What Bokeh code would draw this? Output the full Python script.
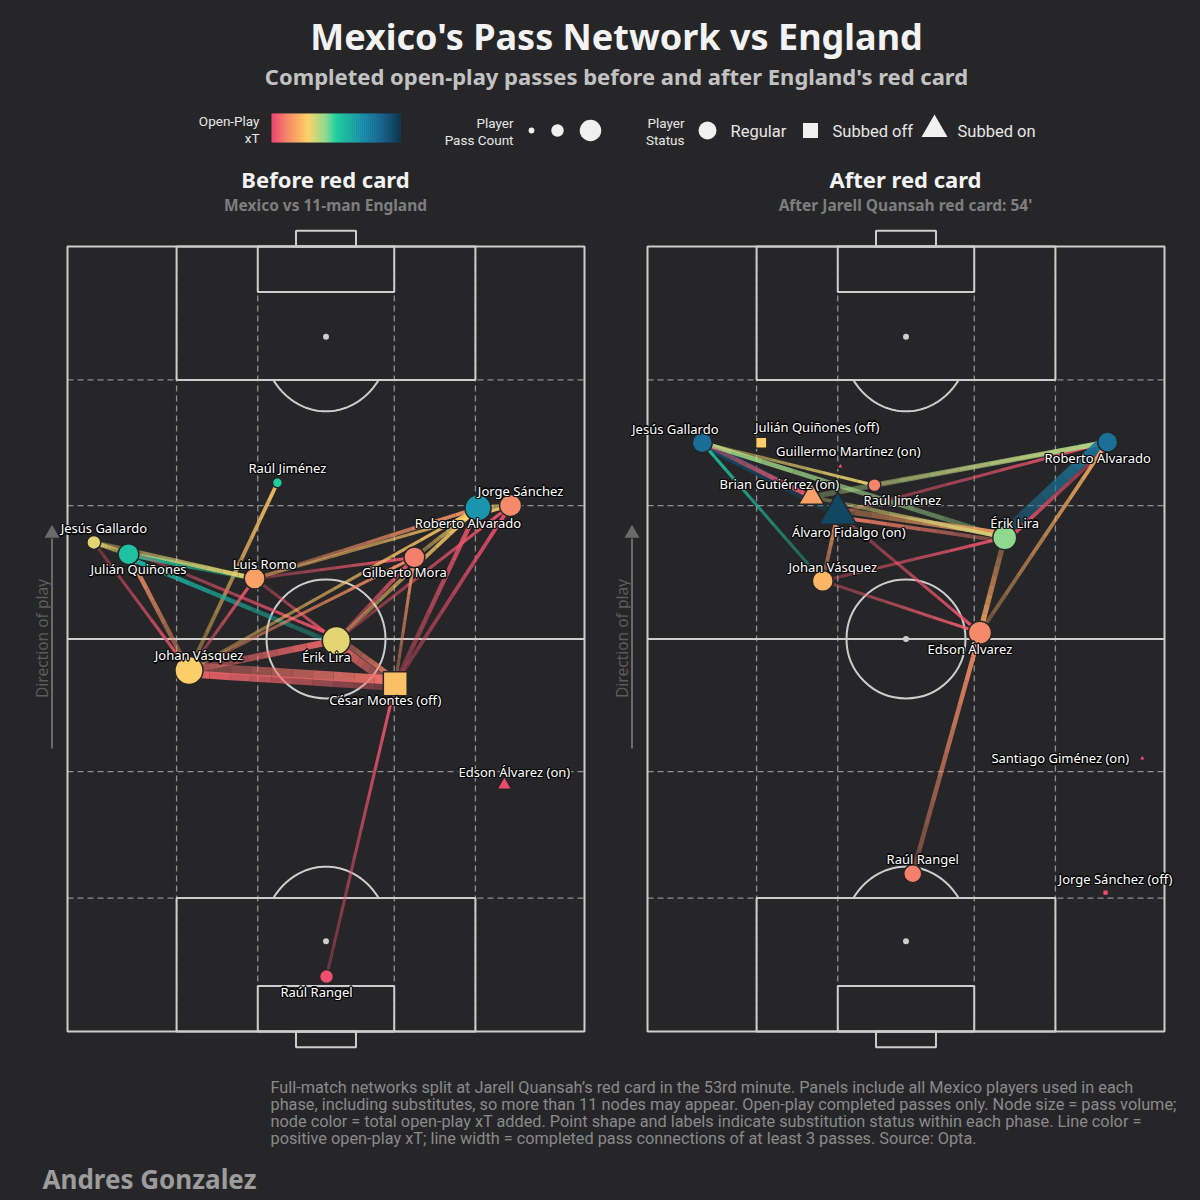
import math
from bokeh.plotting import figure
from bokeh.models import Range1d, ColumnDataSource
from bokeh.core.properties import value
from bokeh.embed import file_html
from bokeh.resources import INLINE

# ---------------- DATA ----------------
# Pitch coordinates (Opta-style 0-100): x = width (left->right), y = length (own goal -> attack)
before_players = ["Raúl Jiménez", "Jorge Sánchez", "Roberto Alvarado", "Jesús Gallardo",
                  "Julián Quiñones", "Luis Romo", "Gilberto Mora", "Érik Lira",
                  "Johan Vásquez", "César Montes", "Edson Álvarez", "Raúl Rangel"]
before_x = [40.6, 85.7, 79.4, 5.1, 11.8, 36.2, 67.1, 52.0, 23.5, 63.4, 84.5, 50.1]
before_y = [69.9, 67.0, 66.7, 62.3, 60.8, 57.7, 60.4, 49.8, 46.0, 44.3, 31.4, 7.0]
before_passes = [5, 35, 51, 12, 31, 31, 31, 60, 60, 42, 10, 12]
before_xt = [0.50, 0.12, 0.70, 0.31, 0.55, 0.17, 0.10, 0.31, 0.27, 0.24, 0.00, 0.01]
before_status = ["regular", "regular", "regular", "regular", "regular", "regular", "regular",
                 "regular", "regular", "off", "on", "regular"]

before_from = ["Johan Vásquez", "Julián Quiñones", "Jesús Gallardo", "Luis Romo", "Érik Lira",
               "Jesús Gallardo", "Johan Vásquez", "Julián Quiñones", "Johan Vásquez", "Luis Romo",
               "Luis Romo", "Luis Romo", "Luis Romo", "Johan Vásquez", "Johan Vásquez",
               "Johan Vásquez", "Johan Vásquez", "César Montes", "Érik Lira", "Érik Lira",
               "Érik Lira", "César Montes", "César Montes", "César Montes", "Raúl Rangel",
               "Gilberto Mora", "Jorge Sánchez", "César Montes", "Érik Lira"]
before_to = ["Raúl Jiménez", "Jesús Gallardo", "Johan Vásquez", "Julián Quiñones", "Julián Quiñones",
             "Luis Romo", "Julián Quiñones", "Érik Lira", "Luis Romo", "Érik Lira",
             "Roberto Alvarado", "Gilberto Mora", "Jorge Sánchez", "Érik Lira", "César Montes",
             "Gilberto Mora", "Roberto Alvarado", "Érik Lira", "Gilberto Mora", "Roberto Alvarado",
             "Jorge Sánchez", "Gilberto Mora", "Roberto Alvarado", "Jorge Sánchez", "César Montes",
             "Roberto Alvarado", "Roberto Alvarado", "Johan Vásquez", "César Montes"]
before_count = [4, 5, 3, 6, 5, 5, 5, 3, 3, 3, 4, 3, 3, 8, 12, 3, 3, 10, 4, 4, 3, 3, 5, 4, 3, 4, 5,
                9, 6]
before_edge_xt = [0.24, 0.30, 0.02, 0.52, 0.60, 0.30, 0.14, 0.02, 0.03, 0.02, 0.14, 0.03, 0.25,
                  0.06, 0.08, 0.13, 0.25, 0.07, 0.02, 0.27, 0.02, 0.14, 0.02, 0.01, 0.02, 0.28, 0.30,
                  0.05, 0.10]

after_players = ["Jesús Gallardo", "Julián Quiñones", "Guillermo Martínez", "Raúl Jiménez",
                 "Brian Gutiérrez", "Álvaro Fidalgo", "Roberto Alvarado", "Érik Lira",
                 "Johan Vásquez", "Edson Álvarez", "Raúl Rangel", "Santiago Giménez", "Jorge Sánchez"]
after_x = [10.6, 22.0, 37.3, 43.9, 31.7, 36.8, 89.0, 69.1, 33.9, 64.3, 51.3, 95.7, 88.6]
after_y = [75.0, 75.0, 72.0, 69.6, 68.1, 66.0, 75.1, 62.9, 57.4, 50.8, 20.1, 34.8, 17.7]
after_passes = [28, 7, 1, 10, 35, 82, 28, 42, 31, 39, 22, 1, 1]
after_xt = [0.84, 0.27, 0.00, 0.11, 0.17, 0.96, 0.83, 0.42, 0.22, 0.12, 0.10, 0.00, 0.00]
after_status = ["regular", "off", "on", "regular", "on", "on", "regular", "regular", "regular",
                "regular", "regular", "on", "off"]

after_from = ["Álvaro Fidalgo", "Johan Vásquez", "Érik Lira", "Jesús Gallardo", "Jesús Gallardo",
              "Raúl Jiménez", "Álvaro Fidalgo", "Brian Gutiérrez", "Álvaro Fidalgo", "Johan Vásquez",
              "Álvaro Fidalgo", "Brian Gutiérrez", "Johan Vásquez", "Johan Vásquez", "Érik Lira",
              "Roberto Alvarado", "Edson Álvarez", "Érik Lira", "Raúl Rangel", "Érik Lira"]
after_to = ["Jesús Gallardo", "Jesús Gallardo", "Jesús Gallardo", "Brian Gutiérrez", "Raúl Jiménez",
            "Roberto Alvarado", "Roberto Alvarado", "Roberto Alvarado", "Érik Lira", "Álvaro Fidalgo",
            "Edson Álvarez", "Érik Lira", "Érik Lira", "Edson Álvarez", "Roberto Alvarado",
            "Érik Lira", "Roberto Alvarado", "Edson Álvarez", "Edson Álvarez", "Álvaro Fidalgo"]
after_count = [11, 3, 5, 5, 3, 3, 3, 6, 7, 4, 3, 4, 3, 3, 13, 4, 4, 6, 5, 4]
after_edge_xt = [0.95, 0.55, 0.40, 0.02, 0.30, 0.15, 0.02, 0.38, 0.17, 0.16, 0.02, 0.33, 0.02,
                 0.04, 0.80, 0.02, 0.20, 0.18, 0.13, 0.10]

legend_pass_counts = [1, 9, 33]

# colormap anchors (open-play xT, normalised)
cmap_pos = [0.0, 0.12, 0.20, 0.28, 0.42, 0.50, 0.60, 0.72, 0.85, 1.0]
cmap_hex = ["#ee4a6e", "#f58a69", "#f9ad62", "#fcd36a", "#8fd98e", "#1fd09e", "#1db4a4",
            "#1a8fb0", "#1a6a93", "#0e3a52"]

# ---------------- STYLE ----------------
BG = "#262628"
LINE = "#cdcdcd"
DASH = "#8f8f8f"
W = H = 1200
SX, SY = 5.17, 7.85          # px per pitch unit
PITCH_LEFT = {"L": 67, "R": 647}
PITCH_BOTTOM = 1031

label_off_before = {
    "Raúl Jiménez": (10, -15), "Jorge Sánchez": (10, -15), "Roberto Alvarado": (-10, 15),
    "Jesús Gallardo": (10, -14), "Julián Quiñones": (10, 15), "Luis Romo": (10, -15),
    "Gilberto Mora": (-10, 15), "Érik Lira": (-10, 16), "Johan Vásquez": (10, -15),
    "César Montes": (-10, 16), "Edson Álvarez": (10, -13), "Raúl Rangel": (-10, 15)}
label_off_after = {
    "Jesús Gallardo": (-27, -14), "Julián Quiñones": (56, -16), "Guillermo Martínez": (8, -15),
    "Raúl Jiménez": (28, 15), "Brian Gutiérrez": (-32, -13), "Álvaro Fidalgo": (11, 19),
    "Roberto Alvarado": (-10, 16), "Érik Lira": (10, -15), "Johan Vásquez": (10, -14),
    "Edson Álvarez": (-10, 16), "Raúl Rangel": (10, -15), "Santiago Giménez": (-82, 0),
    "Jorge Sánchez": (10, -14)}


def hex2rgb(h):
    h = h.lstrip("#")
    return tuple(int(h[i:i + 2], 16) for i in (0, 2, 4))


def cmap(v):
    v = max(0.0, min(1.0, v))
    for i in range(len(cmap_pos) - 1):
        if cmap_pos[i] <= v <= cmap_pos[i + 1]:
            t = (v - cmap_pos[i]) / (cmap_pos[i + 1] - cmap_pos[i])
            a, b = hex2rgb(cmap_hex[i]), hex2rgb(cmap_hex[i + 1])
            c = [round(a[k] + (b[k] - a[k]) * t) for k in range(3)]
            return "#%02x%02x%02x" % tuple(c)
    return cmap_hex[-1]


def node_size(n):
    return 2.5 + 3.3 * math.sqrt(n)


p = figure(width=W, height=H, x_range=Range1d(0, W), y_range=Range1d(H, 0),
           output_backend="svg", toolbar_location=None, min_border=0,
           x_axis_type=None, y_axis_type=None,
           background_fill_color=BG, border_fill_color=BG, outline_line_color=None)
p.grid.visible = False

for key, left in PITCH_LEFT.items():
    p.extra_x_ranges[key] = Range1d((0 - left) / SX, (W - left) / SX)
p.extra_y_ranges["P"] = Range1d((PITCH_BOTTOM - H) / SY, (PITCH_BOTTOM - 0) / SY)


def txt(x, y, s, size, color, bold=False, align="left", font="Roboto", baseline="middle",
        angle=0.0):
    p.text(x=[x], y=[y], text=[s], text_font=value(font), text_font_size=f"{size}px",
           text_color=color, text_font_style="bold" if bold else "normal", text_align=align,
           text_baseline=baseline, angle=angle)


def draw_pitch(key):
    kw = dict(x_range_name=key, y_range_name="P")
    for gx in [21.1, 36.8, 63.2, 78.9]:
        p.segment(x0=[gx], y0=[0], x1=[gx], y1=[100], line_color=DASH, line_width=1.3,
                  line_dash="6 4", **kw)
    for gy in [17, 33.1, 67, 83]:
        p.segment(x0=[0], y0=[gy], x1=[100], y1=[gy], line_color=DASH, line_width=1.3,
                  line_dash="6 4", **kw)
    lw = 2
    p.quad(left=[0], right=[100], bottom=[0], top=[100], fill_color=None, line_color=LINE,
           line_width=lw, **kw)
    p.segment(x0=[0], y0=[50], x1=[100], y1=[50], line_color=LINE, line_width=lw, **kw)
    p.quad(left=[21.1, 21.1], right=[78.9, 78.9], bottom=[0, 83], top=[17, 100],
           fill_color=None, line_color=LINE, line_width=lw, **kw)
    p.quad(left=[36.8, 36.8], right=[63.2, 63.2], bottom=[0, 94.2], top=[5.8, 100],
           fill_color=None, line_color=LINE, line_width=lw, **kw)
    p.quad(left=[44.2, 44.2], right=[55.8, 55.8], bottom=[-2.0, 100], top=[0, 102.0],
           fill_color=None, line_color=LINE, line_width=lw, **kw)
    p.ellipse(x=[50], y=[50], width=119, height=119, width_units="screen",
              height_units="screen", fill_color=None, line_color=LINE, line_width=lw, **kw)
    p.scatter(x=[50, 50, 50], y=[50, 11.5, 88.5], size=6, marker="circle", fill_color=LINE,
              line_color=None, **kw)
    rx, ry = 12.5, 9.5
    for spot, sign in [(11.5, 1), (88.5, -1)]:
        xs, ys = [], []
        for i in range(121):
            th = math.pi * i / 120
            xx = 50 + rx * math.cos(th)
            yy = spot + sign * ry * math.sin(th)
            if (sign == 1 and yy >= 17) or (sign == -1 and yy <= 83):
                xs.append(xx)
                ys.append(yy)
        p.line(x=xs, y=ys, line_color=LINE, line_width=lw, **kw)


def draw_network(key, names, xs, ys, passes, xts, status, e_from, e_to, e_count, e_xt, loff):
    kw = dict(x_range_name=key, y_range_name="P")
    idx = {n: i for i, n in enumerate(names)}
    pairs = set(zip(e_from, e_to))
    sx0, sy0, sx1, sy1, scol, salpha, swidth = [], [], [], [], [], [], []
    nseg = 10
    for a, b, c, v in zip(e_from, e_to, e_count, e_xt):
        x0, y0 = xs[idx[a]], ys[idx[a]]
        x1, y1 = xs[idx[b]], ys[idx[b]]
        dxp, dyp = (x1 - x0) * SX, (y1 - y0) * SY
        L = math.hypot(dxp, dyp) or 1.0
        off = 3.5 if (b, a) in pairs else 0.0
        ox, oy = -dyp / L * off / SX, dxp / L * off / SY
        col = cmap(v)
        w = 0.7 * c + 1.0
        for k in range(nseg):
            t0, t1 = k / nseg, (k + 1) / nseg
            sx0.append(x0 + (x1 - x0) * t0 + ox)
            sy0.append(y0 + (y1 - y0) * t0 + oy)
            sx1.append(x0 + (x1 - x0) * t1 + ox)
            sy1.append(y0 + (y1 - y0) * t1 + oy)
            scol.append(col)
            salpha.append(0.32 + 0.63 * (k + 0.5) / nseg)
            swidth.append(w)
    src = ColumnDataSource(dict(x0=sx0, y0=sy0, x1=sx1, y1=sy1, c=scol, a=salpha, w=swidth))
    p.segment(x0="x0", y0="y0", x1="x1", y1="y1", line_color="c", line_alpha="a",
              line_width="w", source=src, **kw)

    marker_map = {"regular": "circle", "off": "square", "on": "triangle"}
    scale_map = {"regular": 1.0, "off": 1.0, "on": 1.15}
    nsrc = ColumnDataSource(dict(
        x=xs, y=ys, c=[cmap(v) for v in xts], m=[marker_map[s] for s in status],
        s=[node_size(n) * scale_map[st] for n, st in zip(passes, status)]))
    p.scatter(x="x", y="y", size="s", marker="m", fill_color="c", line_color=BG,
              line_width=1.5, source=nsrc, **kw)

    suffix = {"regular": "", "off": " (off)", "on": " (on)"}
    labels = [n + suffix[s] for n, s in zip(names, status)]
    dxs = [loff[n][0] for n in names]
    dys = [loff[n][1] for n in names]
    for hx, hy in [(-1, -1), (1, -1), (-1, 1), (1, 1), (0, 1.3), (0, -1.3), (1.3, 0), (-1.3, 0)]:
        hs = ColumnDataSource(dict(x=xs, y=ys, t=labels, dx=[d + hx for d in dxs],
                                   dy=[d + hy for d in dys]))
        p.text(x="x", y="y", text="t", x_offset="dx", y_offset="dy", source=hs,
               text_font=value("Noto Sans"), text_font_size="13px", text_color="#0a0a0a",
               text_align="center", text_baseline="middle", **kw)
    lsrc = ColumnDataSource(dict(x=xs, y=ys, t=labels, dx=dxs, dy=dys))
    p.text(x="x", y="y", text="t", x_offset="dx", y_offset="dy", source=lsrc,
           text_font=value("Noto Sans"), text_font_size="13px", text_color="#ffffff",
           text_align="center", text_baseline="middle", **kw)


draw_pitch("L")
draw_pitch("R")
draw_network("L", before_players, before_x, before_y, before_passes, before_xt, before_status,
             before_from, before_to, before_count, before_edge_xt, label_off_before)
draw_network("R", after_players, after_x, after_y, after_passes, after_xt, after_status,
             after_from, after_to, after_count, after_edge_xt, label_off_after)

# direction of play arrows
for ax in [51.5, 631.5]:
    p.segment(x0=[ax], y0=[748], x1=[ax], y1=[538], line_color="#6a6a6a", line_width=2)
    p.scatter(x=[ax], y=[533], marker="triangle", size=15, fill_color="#6a6a6a", line_color=None)
    txt(ax - 10, 638, "Direction of play", 15.5, "#5c5c5c", align="center", font="Noto Sans",
        angle=math.pi / 2)

# ---------------- HEADER ----------------
txt(616, 36, "Mexico's Pass Network vs England", 36, "#f2f2f2", bold=True, align="center",
    font="Noto Sans")
txt(616, 75, "Completed open-play passes before and after England's red card", 22, "#c2c2c2",
    bold=True, align="center", font="Noto Sans")

# colorbar
ncb = 64
cb_l, cb_r = 271, 400
cw = (cb_r - cb_l) / ncb
p.quad(left=[cb_l + i * cw for i in range(ncb)], right=[cb_l + (i + 1) * cw + 0.4 for i in range(ncb)],
       top=[113] * ncb, bottom=[142] * ncb, fill_color=[cmap(i / (ncb - 1)) for i in range(ncb)],
       line_color=None)
txt(259, 120, "Open-Play", 13.5, "#e6e6e6", align="right")
txt(259, 137, "xT", 13.5, "#e6e6e6", align="right")

txt(513, 122, "Player", 13.5, "#e6e6e6", align="right")
txt(513, 139, "Pass Count", 13.5, "#e6e6e6", align="right")
p.scatter(x=[531, 557, 590], y=[130, 130, 130], size=[node_size(n) for n in legend_pass_counts],
          marker="circle", fill_color="#f0f0f0", line_color=None)

txt(684, 122, "Player", 13.5, "#e6e6e6", align="right")
txt(684, 139, "Status", 13.5, "#e6e6e6", align="right")
p.scatter(x=[707], y=[130], size=18, marker="circle", fill_color="#f0f0f0", line_color=None)
txt(730, 131, "Regular", 16.5, "#e6e6e6")
p.scatter(x=[810], y=[130], size=15, marker="square", fill_color="#f0f0f0", line_color=None)
txt(832, 131, "Subbed off", 16.5, "#e6e6e6")
p.scatter(x=[934], y=[129], size=26, marker="triangle", fill_color="#f0f0f0", line_color=None)
txt(957, 131, "Subbed on", 16.5, "#e6e6e6")

# panel titles
txt(325, 178, "Before red card", 22, "#f2f2f2", bold=True, align="center", font="Noto Sans")
txt(325, 204, "Mexico vs 11-man England", 15.5, "#7e7e7e", bold=True, align="center",
    font="Noto Sans")
txt(905, 178, "After red card", 22, "#f2f2f2", bold=True, align="center", font="Noto Sans")
txt(905, 204, "After Jarell Quansah red card: 54'", 15.5, "#7e7e7e", bold=True, align="center",
    font="Noto Sans")

# ---------------- FOOTER ----------------
footer = [
    "Full-match networks split at Jarell Quansah\u2019s red card in the 53rd minute. Panels include all Mexico players used in each",
    "phase, including substitutes, so more than 11 nodes may appear. Open-play completed passes only. Node size = pass volume;",
    "node color =  total open-play xT added. Point shape and labels indicate substitution status within each phase. Line color =",
    "positive open-play xT; line width = completed pass connections of at least 3 passes. Source: Opta.",
]
for i, line in enumerate(footer):
    txt(270, 1087 + 17 * i, line, 16.3, "#8a8a8a")
txt(42, 1178, "Andres Gonzalez", 26, "#9c9c9c", bold=True, font="Noto Sans")

html = file_html(p, INLINE, title="Mexico's Pass Network vs England")
html = html.replace("</head>",
                    "<style>html,body{background-color:%s;margin:0;}</style></head>" % BG, 1)
open("out.html", "w").write(html)
